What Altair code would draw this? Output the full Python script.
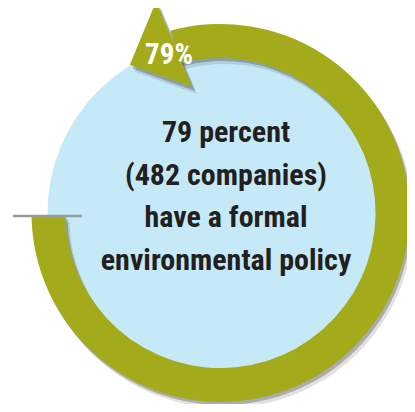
import math
import altair as alt
import pandas as pd

# ---- data ----
pct_value = 79
companies = 482
headline_lines = ["79 percent", "(482 companies)", "have a formal", "environmental policy"]
pct_label = [f"{pct_value}%"]

# ---- style / layout ----
GREEN = "#A3AB1A"
BLUE = "#C6E9F8"
TEXT = "#231F20"
GRAY = "#9A9A9A"
SHADOW = "#333333"
FONT = "Roboto Condensed, Liberation Sans Narrow, DejaVu Sans Condensed, sans-serif"

W, H = 399, 396
CX, CY = 212.5, 205.0
R_OUT, R_IN = 189, 155
R_BLUE = 173
R_MID = (R_OUT + R_IN) / 2
START_DEG = 269

ring_df = pd.DataFrame({"start": [0], "pct": [pct_value]})
label_df = pd.DataFrame({"label": pct_label})

start_rad = math.radians(START_DEG)
theta_scale = alt.Scale(domain=[0, 100], range=[start_rad, start_rad - 2 * math.pi])

base = alt.Chart(ring_df)


def ring(dx, dy, color, opacity):
    return base.mark_arc(radius=R_OUT, radius2=R_IN, color=color, opacity=opacity,
                         strokeWidth=0).encode(
        theta=alt.Theta("start:Q", scale=theta_scale),
        theta2=alt.Theta2("pct:Q"),
        x=alt.value(CX + dx), y=alt.value(CY + dy))


ARROW_PATH = "M -0.12 -0.98 L 0.12 0.86 L -0.96 0.1 Z"


def arrow(dx, dy, color, opacity):
    return base.transform_calculate(
        adeg=f"(({START_DEG} - datum.pct*3.6) % 360 + 360) % 360"
    ).transform_calculate(
        ax=f"{CX + dx} + {R_MID}*sin(datum.adeg*PI/180)",
        ay=f"{CY + dy} - {R_MID}*cos(datum.adeg*PI/180)",
    ).mark_point(shape=ARROW_PATH, size=10000, filled=True, color=color,
                 opacity=opacity, strokeWidth=0).encode(
        x=alt.X("ax:Q", scale=None),
        y=alt.Y("ay:Q", scale=None),
        angle=alt.Angle("adeg:Q", scale=None))


blue = base.mark_arc(radius=R_BLUE, theta=0, theta2=2 * math.pi, color=BLUE,
                     strokeWidth=0).encode(x=alt.value(CX), y=alt.value(CY))

start_rule = base.mark_rule(color=GRAY, strokeWidth=2.5).encode(
    x=alt.value(5), x2=alt.value(74), y=alt.value(208))

headline = base.mark_text(text=headline_lines, font=FONT, fontWeight="bold",
                          fontSize=30, lineHeight=42.7, color=TEXT,
                          align="center", baseline="alphabetic").encode(
    x=alt.value(218), y=alt.value(134))

pct_text = alt.Chart(label_df).mark_text(font=FONT, fontWeight="bold", fontSize=29,
                                         color="white", align="center",
                                         baseline="alphabetic").encode(
    text="label:N", x=alt.value(161), y=alt.value(56))

chart = alt.layer(
    blue,
    ring(4, 6, SHADOW, 0.15), arrow(5, 7, SHADOW, 0.15),
    ring(2, 3, SHADOW, 0.3), arrow(3, 4, SHADOW, 0.3),
    ring(0, 0, GREEN, 1), arrow(0, 0, GREEN, 1),
    start_rule, headline, pct_text,
).properties(width=W, height=H, padding=0, autosize="none", background="white"
).configure_view(stroke=None)

chart.save("out.html", embed_options={"renderer": "svg", "actions": False})
